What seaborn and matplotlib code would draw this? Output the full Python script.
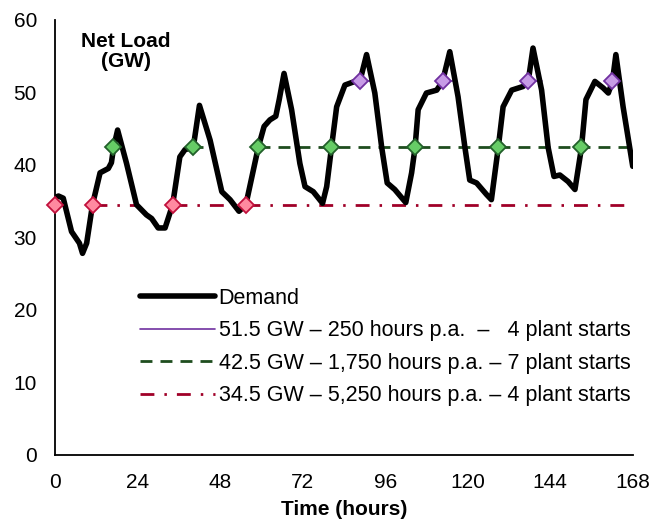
import numpy as np
import pandas as pd
import matplotlib
matplotlib.use("Agg")
import matplotlib.pyplot as plt
import seaborn as sns

# ---------------- data ----------------
hours = [0, 1.0, 2.4, 4.8, 7.1, 8.0, 9.2, 10.9, 13.1, 15.5, 16.4, 17.0, 18.2, 20.8, 23.7,
         26.6, 28.1, 30.0, 32.0, 34.2, 36.3, 37.8, 40.2, 42.0, 45.1, 48.5, 50.9, 53.5, 55.5,
         59.1, 60.8, 62.5, 64.2, 65.2, 66.6, 68.8, 71.2, 72.7, 75.1, 77.8, 79.0, 80.4, 81.9,
         84.3, 87.2, 88.7, 90.6, 93.0, 95.0, 96.6, 98.8, 102.0, 103.7, 104.7, 105.6, 108.0,
         111.0, 112.7, 114.8, 117.2, 119.2, 120.6, 122.6, 125.5, 126.9, 128.9, 130.3, 132.8,
         136.1, 137.6, 139.0, 141.5, 143.4, 145.1, 146.8, 149.2, 151.2, 153.1, 154.4, 157.0,
         159.4, 160.9, 162.1, 163.1, 165.2, 168.0]
demand = [35.5, 35.7, 35.4, 30.8, 29.2, 27.8, 29.2, 34.5, 38.9, 39.5, 40.3, 42.3, 44.8, 40.2, 34.5,
          33.1, 32.6, 31.3, 31.3, 34.5, 41.1, 42.1, 42.4, 48.2, 43.4, 36.3, 35.2, 33.6, 34.5,
          42.4, 45.3, 46.2, 46.7, 49.0, 52.6, 47.6, 40.2, 37.0, 36.3, 34.7, 37.0, 42.4, 48.0,
          51.0, 51.5, 51.6, 55.2, 49.9, 42.4, 37.5, 36.6, 34.8, 38.9, 42.4, 47.6, 49.9,
          50.3, 51.5, 55.6, 49.4, 42.4, 37.9, 37.5, 35.9, 35.2, 42.4, 48.0, 50.3,
          50.8, 51.5, 56.1, 50.3, 42.4, 38.4, 38.6, 37.7, 36.6, 42.4, 49.0, 51.5,
          50.6, 49.9, 51.5, 55.2, 48.0, 39.8]

levels = [51.5, 42.5, 34.5]
level_labels = ["51.5 GW \u2013 250 hours p.a.  \u2013   4 plant starts",
                "42.5 GW \u2013 1,750 hours p.a. \u2013 7 plant starts",
                "34.5 GW \u2013 5,250 hours p.a. \u2013 4 plant starts"]
purple_segments = [(88.7, 92.6), (112.7, 116.7), (137.6, 141.5), (162.1, 163.6)]
green_segments = [(17.0, 18.9), (40.2, 43.1), (59.1, 168.0)]
red_segments = [(0.0, 2.7), (10.9, 23.7), (34.2, 53.5), (55.5, 168.0)]
purple_starts = [88.7, 112.7, 137.6, 162.1]
green_starts = [17.0, 40.2, 59.1, 80.4, 104.7, 128.9, 153.1]
red_starts = [0.0, 10.9, 34.2, 55.5]

x_ticks = [0, 24, 48, 72, 96, 120, 144, 168]
y_ticks = [0, 10, 20, 30, 40, 50, 60]

# ---------------- style ----------------
sns.set_theme(style="white")
plt.rcParams['font.family'] = ['Liberation Sans', 'DejaVu Sans']
plt.rcParams['text.color'] = 'black'
plt.rcParams['axes.labelcolor'] = 'black'

fig = plt.figure(figsize=(6.55, 5.2), dpi=100)
ax = fig.add_axes([0.084, 0.125, 0.882, 0.837])

df = pd.DataFrame({"Time": hours, "Demand": demand})
sns.lineplot(data=df, x="Time", y="Demand", ax=ax, color="black", lw=4.0,
             solid_joinstyle="round", solid_capstyle="round", zorder=3, label="Demand")

styles = [
    dict(color="#7030A0", lw=1.2, ls="-"),
    dict(color="#1E4D1E", lw=2.0, ls=(0, (4.3, 2.9))),
    dict(color="#A00028", lw=2.0, ls=(0, (5.0, 3.6, 0.9, 3.6))),
]
mstyles = [
    dict(mfc="#C79BE6", mec="#7030A0"),
    dict(mfc="#66CC66", mec="#22602A"),
    dict(mfc="#FF8AA0", mec="#C0103C"),
]
seg_sets = [purple_segments, green_segments, red_segments]
start_sets = [purple_starts, green_starts, red_starts]

for lvl, lab, st, ms, segs, starts in zip(levels, level_labels, styles, mstyles, seg_sets, start_sets):
    for i, (a, b) in enumerate(segs):
        ax.plot([a, b], [lvl, lvl], color=st["color"], lw=st["lw"], ls=st["ls"],
                dash_capstyle="butt", zorder=2, label=lab if i == 0 else None)
    ax.plot(starts, [lvl] * len(starts), ls="none", marker="D", ms=8.3, mew=1.3,
            zorder=5, clip_on=False, **ms)

ax.set_xlim(0, 168)
ax.set_ylim(0, 60)
ax.set_xticks(x_ticks)
ax.set_yticks(y_ticks)
ax.tick_params(axis="both", direction="in", length=5, width=1.2, labelsize=15,
               colors="black", labelcolor="black")
ax.tick_params(axis="x", pad=13)
ax.tick_params(axis="y", pad=13)
for s in ["top", "right"]:
    ax.spines[s].set_visible(False)
for s in ["left", "bottom"]:
    ax.spines[s].set_color("black")
    ax.spines[s].set_linewidth(1.3)

ax.set_xlabel("Time (hours)", fontsize=15, fontweight="bold", labelpad=6, color="black")
ax.set_ylabel("")
ax.text(20.5, 55.6, "Net Load\n(GW)", ha="center", va="center", fontsize=15,
        fontweight="bold", linespacing=1.1, color="black")

handles, labels = ax.get_legend_handles_labels()
leg = ax.legend(handles, labels, loc="upper left", bbox_to_anchor=(0.147, 0.384),
                frameon=False, fontsize=15.5, handlelength=3.5, handletextpad=0.15,
                labelspacing=0.53, borderpad=0, borderaxespad=0, labelcolor="black")

fig.savefig("out.png", dpi=100)
